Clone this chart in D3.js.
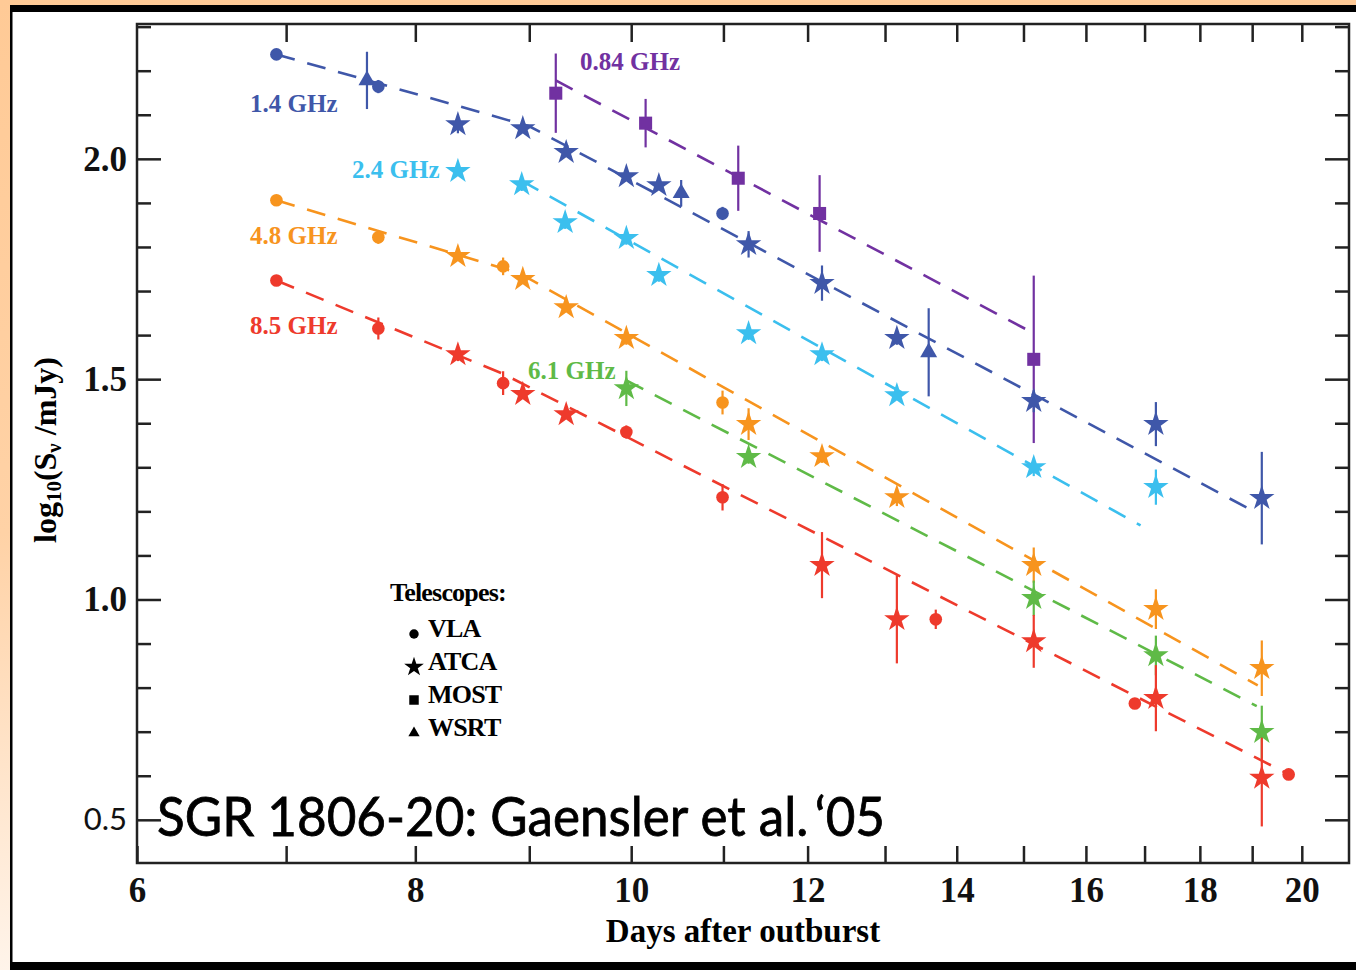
<!DOCTYPE html>
<html>
<head>
<meta charset="utf-8">
<script src="https://cdn.jsdelivr.net/npm/d3@7"></script>
<style>
  body { margin: 0; background: #fff; }
  svg text { font-family: "Liberation Serif", "Times New Roman", serif; font-weight: bold; }
</style>
</head>
<body>
<div id="chart"></div>
<script>
// observations: [day, log10(S/mJy), error, telescope]
var obs084 = [
    [9.25, 2.149, 0.090, "MOST"],
    [10.15, 2.081, 0.055, "MOST"],
    [11.17, 1.956, 0.074, "MOST"],
    [12.15, 1.876, 0.087, "MOST"],
    [15.16, 1.545, 0.190, "MOST"]
];
var obs14 = [
    [6.93, 2.237, 0, "VLA"],
    [7.61, 2.178, 0.065, "WSRT"],
    [7.70, 2.164, 0.015, "VLA"],
    [8.36, 2.078, 0.020, "ATCA"],
    [8.94, 2.069, 0, "ATCA"],
    [9.35, 2.015, 0, "ATCA"],
    [9.95, 1.960, 0, "ATCA"],
    [10.29, 1.940, 0, "ATCA"],
    [10.53, 1.922, 0.030, "WSRT"],
    [10.99, 1.876, 0.015, "VLA"],
    [11.29, 1.806, 0.030, "ATCA"],
    [12.18, 1.718, 0.040, "ATCA"],
    [13.16, 1.593, 0.015, "ATCA"],
    [13.60, 1.561, 0.100, "WSRT"],
    [15.16, 1.450, 0.025, "ATCA"],
    [17.20, 1.398, 0.050, "ATCA"],
    [19.19, 1.230, 0.105, "ATCA"]
];
var obs24 = [
    [8.36, 1.972, 0, "ATCA"],
    [8.93, 1.942, 0.015, "ATCA"],
    [9.34, 1.856, 0.015, "ATCA"],
    [9.95, 1.820, 0.015, "ATCA"],
    [10.29, 1.736, 0.015, "ATCA"],
    [11.29, 1.604, 0.015, "ATCA"],
    [12.18, 1.556, 0.015, "ATCA"],
    [13.16, 1.463, 0.010, "ATCA"],
    [15.16, 1.300, 0.020, "ATCA"],
    [17.20, 1.255, 0.040, "ATCA"]
];
var obs48 = [
    [6.93, 1.906, 0, "VLA"],
    [7.70, 1.822, 0.015, "VLA"],
    [8.36, 1.779, 0.010, "ATCA"],
    [8.76, 1.756, 0.020, "VLA"],
    [8.94, 1.727, 0.010, "ATCA"],
    [9.35, 1.663, 0.010, "ATCA"],
    [9.95, 1.593, 0.015, "ATCA"],
    [10.99, 1.447, 0.027, "VLA"],
    [11.29, 1.398, 0.036, "ATCA"],
    [12.18, 1.325, 0.015, "ATCA"],
    [13.16, 1.232, 0.020, "ATCA"],
    [15.16, 1.078, 0.040, "ATCA"],
    [17.20, 0.978, 0.045, "ATCA"],
    [19.19, 0.844, 0.063, "ATCA"]
];
var obs61 = [
    [9.95, 1.479, 0.040, "ATCA"],
    [11.29, 1.323, 0.015, "ATCA"],
    [15.16, 1.003, 0.040, "ATCA"],
    [17.20, 0.873, 0.045, "ATCA"],
    [19.19, 0.699, 0.060, "ATCA"]
];
var obs85 = [
    [6.93, 1.724, 0, "VLA"],
    [7.70, 1.615, 0.025, "VLA"],
    [8.36, 1.556, 0.015, "ATCA"],
    [8.76, 1.491, 0.027, "VLA"],
    [8.94, 1.466, 0.010, "ATCA"],
    [9.35, 1.420, 0.010, "ATCA"],
    [9.95, 1.380, 0.015, "VLA"],
    [10.99, 1.232, 0.030, "VLA"],
    [12.18, 1.078, 0.075, "ATCA"],
    [13.16, 0.955, 0.100, "ATCA"],
    [13.70, 0.955, 0.022, "VLA"],
    [15.16, 0.905, 0.060, "ATCA"],
    [16.83, 0.764, 0, "VLA"],
    [17.20, 0.776, 0.075, "ATCA"],
    [19.19, 0.595, 0.110, "ATCA"],
    [19.73, 0.603, 0, "VLA"]
];

// fitted (broken) power laws: [day, log10 S]
var fit084 = [[9.25, 2.178], [15.07, 1.611]];
var fit14 = [[6.93, 2.237], [9.0, 2.074], [19.0, 1.202]];
var fit24 = [[8.93, 1.950], [16.93, 1.168]];
var fit48 = [[6.93, 1.906], [8.91, 1.740], [19.11, 0.805]];
var fit61 = [[9.95, 1.497], [19.09, 0.758]];
var fit85 = [[6.93, 1.724], [8.76, 1.512], [19.7, 0.605]];

var freqNames = ["0.84 GHz", "1.4 GHz", "2.4 GHz", "4.8 GHz", "6.1 GHz", "8.5 GHz"];
var telescopes = ["VLA", "ATCA", "MOST", "WSRT"];
var xTicks = [6, 7, 8, 9, 10, 11, 12, 13, 14, 15, 16, 17, 18, 19, 20];
var yMajor = [0.5, 1.0, 1.5, 2.0];

var W = 1356, H = 970;
var colors = ["#7131a1", "#3f57a9", "#3bbfee", "#f7941e", "#5fba47", "#ee3a2c"];
// label positions (pixels) for each frequency
var labelPos = [[580, 70], [250, 112], [352, 178], [250, 244], [528, 379], [250, 334]];

var series = freqNames.map(function (n, i) {
    return {
        name: n,
        color: colors[i],
        obs: [obs084, obs14, obs24, obs48, obs61, obs85][i],
        fit: [fit084, fit14, fit24, fit48, fit61, fit85][i],
        label: labelPos[i]
    };
});

var x = d3.scaleLog().domain([6, 21]).range([137, 1349]);
var y = d3.scaleLinear().domain([0.402, 2.306]).range([863, 24]);

var svg = d3.select("#chart").append("svg")
    .attr("width", W)
    .attr("height", H);

// peach frame
var grad = svg.append("defs").append("linearGradient")
    .attr("id", "peach").attr("x1", 0).attr("y1", 0).attr("x2", 0).attr("y2", 1);
grad.append("stop").attr("offset", "0%").attr("stop-color", "#ffca96");
grad.append("stop").attr("offset", "55%").attr("stop-color", "#ffd2a6");
grad.append("stop").attr("offset", "100%").attr("stop-color", "#fff4ea");
svg.append("rect").attr("width", W).attr("height", H).attr("fill", "url(#peach)");
svg.append("rect").attr("x", 10).attr("y", 5).attr("width", W - 10).attr("height", H - 5).attr("fill", "#000");
svg.append("rect").attr("x", 12.5).attr("y", 12).attr("width", W - 12.5).attr("height", 950).attr("fill", "#fff");

// axes
var axisColor = "#222";
function styleAxis(g) {
    g.select(".domain").remove();
    g.selectAll(".tick line").attr("stroke", axisColor).attr("stroke-width", 2.5);
    g.selectAll(".tick text").attr("fill", "#111").style("font-size", "35px");
}

svg.append("g").attr("transform", "translate(0,863)")
    .call(d3.axisBottom(x).tickValues(xTicks).tickSize(-17).tickPadding(14)
        .tickFormat(function (d) { return d % 2 === 0 ? d : ""; }))
    .call(styleAxis);
svg.append("g").attr("transform", "translate(0,24)")
    .call(d3.axisTop(x).tickValues(xTicks.slice(1)).tickSize(-18).tickFormat(""))
    .call(styleAxis);

var yMinor = d3.range(5, 24).map(function (i) { return i / 10; })
    .filter(function (v) { return yMajor.indexOf(v) < 0; });
svg.append("g").attr("transform", "translate(137,0)")
    .call(d3.axisLeft(y).tickValues(yMinor).tickSize(-14).tickFormat(""))
    .call(styleAxis);
var yl = svg.append("g").attr("transform", "translate(137,0)")
    .call(d3.axisLeft(y).tickValues(yMajor).tickSize(-24).tickPadding(10).tickFormat(d3.format(".1f")))
    .call(styleAxis);
yl.selectAll(".tick text").filter(function (d) { return d === 0.5; })
    .style("font-family", "Lato, sans-serif").style("font-weight", "normal").style("font-size", "31px");
svg.append("g").attr("transform", "translate(1349,0)")
    .call(d3.axisRight(y).tickValues(yMinor).tickSize(-14).tickFormat(""))
    .call(styleAxis);
svg.append("g").attr("transform", "translate(1349,0)")
    .call(d3.axisRight(y).tickValues(yMajor).tickSize(-24).tickFormat(""))
    .call(styleAxis);

svg.append("rect")
    .attr("x", x(6)).attr("y", y(2.306))
    .attr("width", x(21) - x(6)).attr("height", y(0.402) - y(2.306))
    .attr("fill", "none").attr("stroke", axisColor).attr("stroke-width", 2.5);

// axis titles
svg.append("text")
    .attr("x", 743).attr("y", 942)
    .attr("text-anchor", "middle")
    .style("font-size", "33px")
    .text("Days after outburst");

var ylab = svg.append("text")
    .attr("transform", "translate(56,450) rotate(-90)")
    .attr("text-anchor", "middle")
    .style("font-size", "32px");
ylab.append("tspan").text("log");
ylab.append("tspan").attr("baseline-shift", "-25%").style("font-size", "21px").text("10");
ylab.append("tspan").text("(S");
ylab.append("tspan").attr("baseline-shift", "-25%").style("font-size", "21px").text("ν");
ylab.append("tspan").text(" /mJy)");

// fits
var line = d3.line()
    .x(function (d) { return x(d[0]); })
    .y(function (d) { return y(d[1]); });

svg.append("g").selectAll("path")
    .data(series)
    .enter().append("path")
    .attr("d", function (s) { return line(s.fit); })
    .attr("fill", "none")
    .attr("stroke", function (s) { return s.color; })
    .attr("stroke-width", 2.6)
    .attr("stroke-dasharray", "19 13");

// error bars
var errG = svg.append("g");
series.forEach(function (s) {
    errG.selectAll(null)
        .data(s.obs.filter(function (d) { return d[2] > 0; }))
        .enter().append("line")
        .attr("x1", function (d) { return x(d[0]); })
        .attr("x2", function (d) { return x(d[0]); })
        .attr("y1", function (d) { return y(d[1] + d[2]); })
        .attr("y2", function (d) { return y(d[1] - d[2]); })
        .attr("stroke", s.color)
        .attr("stroke-width", 2.2);
});

// markers
var symType = { VLA: d3.symbolCircle, ATCA: d3.symbolStar, MOST: d3.symbolSquare, WSRT: d3.symbolTriangle };
var symSize = { VLA: 125, ATCA: 200, MOST: 170, WSRT: 125 };
var markG = svg.append("g");
series.forEach(function (s) {
    markG.selectAll(null)
        .data(s.obs)
        .enter().append("path")
        .attr("transform", function (d) { return "translate(" + x(d[0]) + "," + y(d[1]) + ")"; })
        .attr("d", function (d) { return d3.symbol().type(symType[d[3]]).size(symSize[d[3]])(); })
        .attr("fill", s.color);
});

// frequency labels
svg.append("g").selectAll("text")
    .data(series)
    .enter().append("text")
    .attr("x", function (s) { return s.label[0]; })
    .attr("y", function (s) { return s.label[1]; })
    .attr("fill", function (s) { return s.color; })
    .style("font-size", "25px")
    .style("letter-spacing", "0px")
    .text(function (s) { return s.name; });

// telescope legend
var leg = svg.append("g");
leg.append("text").attr("x", 390).attr("y", 601)
    .style("font-size", "26px").style("letter-spacing", "-0.8px")
    .text("Telescopes:");
var legSize = { VLA: 70, ATCA: 120, MOST: 90, WSRT: 55 };
telescopes.forEach(function (t, i) {
    var cy = 633 + i * 33;
    leg.append("path")
        .attr("transform", "translate(414," + (cy + 1) + ")")
        .attr("d", d3.symbol().type(symType[t]).size(legSize[t])())
        .attr("fill", "#000");
    leg.append("text").attr("x", 428).attr("y", cy + 4)
        .style("font-size", "26px").style("letter-spacing", "-0.8px")
        .text(t);
});

// title
svg.append("text")
    .attr("x", 157).attr("y", 836)
    .attr("textLength", 728)
    .attr("lengthAdjust", "spacingAndGlyphs")
    .style("font-family", "Lato, 'Open Sans', sans-serif")
    .style("font-weight", "normal")
    .style("font-size", "54px")
    .style("stroke", "#000").style("stroke-width", "0.8px")
    .text("SGR 1806-20: Gaensler et al.\u2009\u201805");
</script>
</body>
</html>
